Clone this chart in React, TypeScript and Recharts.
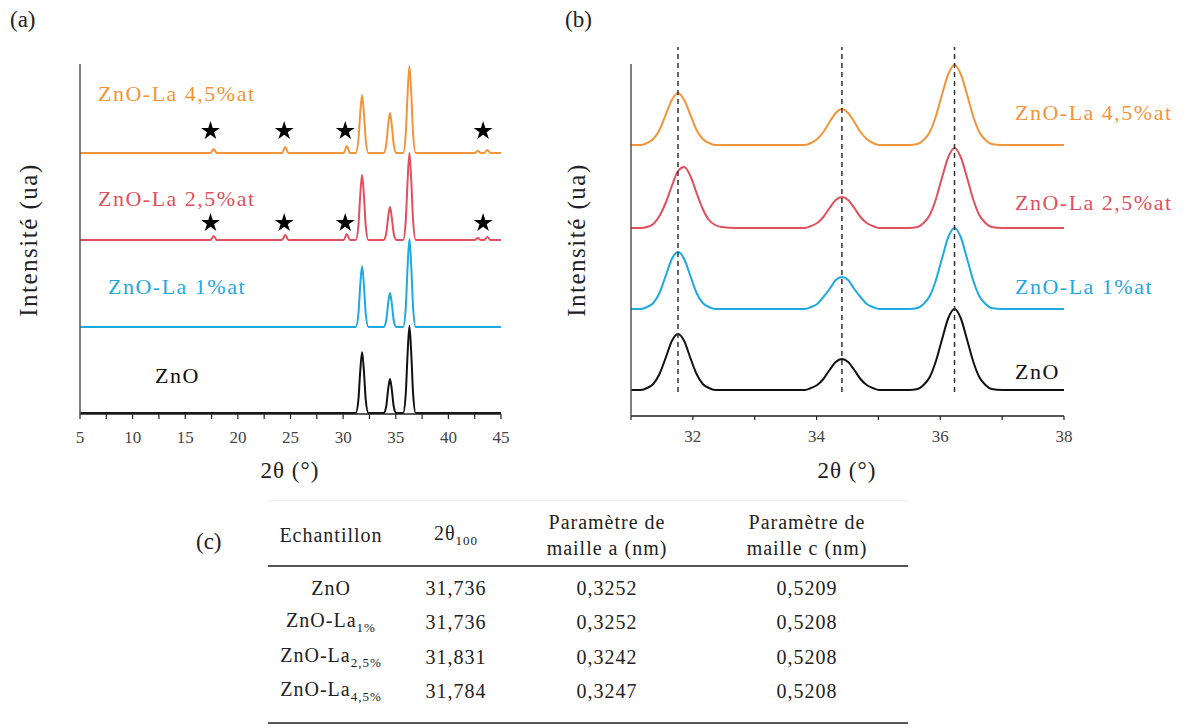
import React from "react";
import {
  ComposedChart,
  Line,
  Scatter,
  XAxis,
  YAxis,
  ZAxis,
  ReferenceLine,
} from "recharts";

const serif = "'Times New Roman', Tinos, 'Liberation Serif', 'DejaVu Serif', 'Noto Serif', Times, serif";

const seriesKeys = ["zno", "la1", "la25", "la45"];
const seriesLabels = ["ZnO", "ZnO-La 1%at", "ZnO-La 2,5%at", "ZnO-La 4,5%at"];
const seriesColors = ["#111111", "#1EA9E1", "#E0505E", "#F2953A"];

// (a) full scan 5-45°
const thetaA = [
  5, 17.4, 17.7, 18.0, 24.2, 24.5, 24.8, 30.05, 30.35, 30.65,
  31.2, 31.45, 31.62, 31.8, 31.98, 32.15, 32.4,
  33.85, 34.1, 34.27, 34.45, 34.63, 34.8, 35.05,
  35.7, 35.95, 36.12, 36.3, 36.48, 36.65, 36.9,
  42.5, 42.8, 43.1, 43.4, 43.7, 44.0, 45,
];
const znoA = [
  0, 0, 0, 0, 0, 0, 0, 0, 0, 0,
  0, 13, 41, 61, 41, 13, 0,
  0, 7, 23, 34, 23, 7, 0,
  0, 19, 58, 87, 58, 19, 0,
  0, 0, 0, 0, 0, 0, 0,
];
const la1A = [
  0, 0, 0, 0, 0, 0, 0, 0, 0, 0,
  0, 13, 41, 61, 41, 13, 0,
  0, 7, 23, 34, 23, 7, 0,
  0, 19, 59, 88, 59, 19, 0,
  0, 0, 0, 0, 0, 0, 0,
];
const la25A = [
  0, 0, 4, 0, 0, 5, 0, 0, 6, 0,
  0, 14, 44, 65, 44, 14, 0,
  0, 7, 22, 33, 22, 7, 0,
  0, 19, 58, 87, 58, 19, 0,
  0, 2, 0, 0, 3, 0, 0,
];
const la45A = [
  0, 0, 4, 0, 0, 6, 0, 0, 7, 0,
  0, 13, 39, 58, 39, 13, 0,
  0, 9, 27, 40, 27, 9, 0,
  0, 19, 58, 87, 58, 19, 0,
  0, 2, 0, 0, 3, 0, 0,
];
const offsetsA = [1, 87, 174, 261];
const ticksA = [5, 7.5, 10, 12.5, 15, 17.5, 20, 22.5, 25, 27.5, 30, 32.5, 35, 37.5, 40, 42.5, 45];

// La2O3 secondary phase marks
const starTheta = [17.4, 24.4, 30.2, 43.3];
const starLevels = [191, 283];

// (b) zoom 31-38°
const thetaB = [
  31.0,
  31.16, 31.26, 31.36, 31.46, 31.56, 31.66, 31.76, 31.86, 31.96, 32.06, 32.16, 32.26, 32.36, 32.46,
  32.7, 33.6,
  33.81, 33.91, 34.01, 34.11, 34.21, 34.31, 34.41, 34.51, 34.61, 34.71, 34.81, 34.91, 35.01,
  35.2, 35.5,
  35.63, 35.73, 35.83, 35.93, 36.03, 36.13, 36.23, 36.33, 36.43, 36.53, 36.63, 36.73, 36.83,
  37.0, 37.3, 38.0,
];
const znoB = [
  0,
  0, 2, 6, 16, 32, 49, 56, 49, 32, 16, 6, 2, 0, 0,
  0, 0,
  0, 2, 5, 11, 20, 28, 31, 28, 20, 11, 5, 2, 0,
  0, 0,
  1, 5, 13, 29, 51, 72, 81, 72, 51, 29, 13, 5, 1,
  0, 0, 0,
];
const la1B = [
  0,
  0, 2, 6, 16, 33, 50, 57, 50, 33, 16, 6, 2, 0, 0,
  0, 0,
  0, 2, 5, 12, 20, 29, 32, 29, 20, 12, 5, 2, 0,
  0, 0,
  1, 5, 13, 29, 51, 72, 81, 72, 51, 29, 13, 5, 1,
  0, 0, 0,
];
const la25B = [
  0,
  0, 1, 4, 12, 25, 42, 57, 61, 52, 35, 19, 8, 3, 1,
  0, 0,
  0, 2, 5, 11, 20, 28, 31, 28, 20, 11, 5, 2, 0,
  0, 0,
  1, 5, 13, 29, 51, 71, 80, 71, 51, 29, 13, 5, 1,
  0, 0, 0,
];
const la45B = [
  0,
  0, 2, 6, 15, 30, 45, 52, 45, 30, 15, 6, 2, 0, 0,
  0, 0,
  0, 2, 6, 13, 23, 32, 36, 32, 23, 13, 6, 2, 0,
  0, 0,
  1, 5, 13, 29, 51, 71, 80, 71, 51, 29, 13, 5, 1,
  0, 0, 0,
];
const offsetsB = [26, 107, 188, 271];
const ticksB = [31, 32, 33, 34, 35, 36, 37, 38];
const peakLinesB = [31.76, 34.41, 36.23];

// (c) table
const tableHead = ["Echantillon", "2θ", "Paramètre de", "Paramètre de"];
const tableHead2 = ["", "", "maille a (nm)", "maille c (nm)"];
const sampleBase = ["ZnO", "ZnO-La", "ZnO-La", "ZnO-La"];
const sampleSub = ["", "1%", "2,5%", "4,5%"];
const peak100 = ["31,736", "31,736", "31,831", "31,784"];
const latticeA = ["0,3252", "0,3252", "0,3242", "0,3247"];
const latticeC = ["0,5209", "0,5208", "0,5208", "0,5208"];

const buildRows = (theta: number[], values: number[][], offsets: number[]) =>
  theta.map((t, i) => {
    const row: Record<string, number> = { theta: t };
    seriesKeys.forEach((k, s) => {
      row[k] = values[s][i] + offsets[s];
    });
    return row;
  });

const rowsA = buildRows(thetaA, [znoA, la1A, la25A, la45A], offsetsA);
const rowsB = buildRows(thetaB, [znoB, la1B, la25B, la45B], offsetsB);
const stars = starLevels.flatMap((lv) => starTheta.map((t) => ({ theta: t, star: lv })));

const Txt = ({ x, y, children, color = "#111", size = 22, anchor = "left", style = {} }: any) => (
  <div
    style={{
      position: "absolute",
      left: x,
      top: y,
      transform: anchor === "center" ? "translate(-50%, -50%)" : "translate(0, -50%)",
      fontFamily: serif,
      fontSize: size,
      lineHeight: 1,
      color,
      whiteSpace: "nowrap",
      ...style,
    }}
  >
    {children}
  </div>
);

const YLabel = ({ x, y }: { x: number; y: number }) => (
  <div
    style={{
      position: "absolute",
      left: x,
      top: y,
      transform: "translate(-50%, -50%) rotate(-90deg)",
      fontFamily: serif,
      fontSize: 25,
      letterSpacing: 1.5,
      lineHeight: 1,
      color: "#222",
      whiteSpace: "nowrap",
    }}
  >
    Intensité (ua)
  </div>
);

const tickStyle = { fontFamily: serif, fontSize: 17, fill: "#444" };
const cellStyle = { letterSpacing: 1 };

const App = () => {
  const labelA = [
    { x: 155, y: 376 },
    { x: 108, y: 287 },
    { x: 98, y: 199 },
    { x: 98, y: 94 },
  ];
  const labelB = [372, 287, 203, 113];
  const colCenters = [331, 456, 607, 807];
  const rowCenters = [588, 622, 657, 691];

  return (
    <div style={{ position: "absolute", left: 0, top: 0, width: 1192, height: 728, background: "#fff", fontFamily: serif }}>
      {/* (a) */}
      <div style={{ position: "absolute", left: 0, top: 0 }}>
        <ComposedChart width={540} height={490} data={rowsA} margin={{ top: 64, right: 39, left: 60, bottom: 14 }}>
          <XAxis
            type="number"
            dataKey="theta"
            domain={[5, 45]}
            ticks={ticksA}
            interval={0}
            tickFormatter={(v: number) => (v % 5 === 0 ? String(v) : "")}
            tickSize={5}
            tickMargin={12}
            height={62}
            axisLine={{ stroke: "#222", strokeWidth: 1.5 }}
            tickLine={{ stroke: "#222", strokeWidth: 1.2 }}
            tick={tickStyle}
          />
          <YAxis
            type="number"
            domain={[0, 350]}
            width={20}
            tick={false}
            tickLine={false}
            axisLine={{ stroke: "#555", strokeWidth: 1.5 }}
          />
          <ZAxis range={[110, 110]} />
          {seriesKeys.map((k, i) => (
            <Line
              key={k}
              type="monotone"
              dataKey={k}
              stroke={seriesColors[i]}
              strokeWidth={2}
              dot={false}
              isAnimationActive={false}
            />
          ))}
          <Scatter data={stars} dataKey="star" shape="star" fill="#000" isAnimationActive={false} />
        </ComposedChart>
      </div>

      {/* (b) */}
      <div style={{ position: "absolute", left: 560, top: 0 }}>
        <ComposedChart width={632} height={490} data={rowsB} margin={{ top: 64, right: 128, left: 51, bottom: 14 }}>
          <XAxis
            type="number"
            dataKey="theta"
            domain={[31, 38]}
            ticks={ticksB}
            interval={0}
            tickFormatter={(v: number) => (v % 2 === 0 ? String(v) : "")}
            tickSize={4}
            tickMargin={10}
            height={60}
            axisLine={{ stroke: "#222", strokeWidth: 1.5 }}
            tickLine={{ stroke: "#222", strokeWidth: 1.2 }}
            tick={tickStyle}
          />
          <YAxis
            type="number"
            domain={[0, 352]}
            width={20}
            tick={false}
            tickLine={false}
            axisLine={{ stroke: "#555", strokeWidth: 1.5 }}
          />
          {seriesKeys.map((k, i) => (
            <Line
              key={k}
              type="monotone"
              dataKey={k}
              stroke={seriesColors[i]}
              strokeWidth={2}
              dot={false}
              isAnimationActive={false}
            />
          ))}
          {peakLinesB.map((p) => (
            <ReferenceLine
              key={p}
              segment={[
                { x: p, y: 24 },
                { x: p, y: 369 },
              ]}
              ifOverflow="visible"
              stroke="#333"
              strokeWidth={1.5}
              strokeDasharray="5 4"
            />
          ))}
        </ComposedChart>
      </div>

      {/* panel letters and axis titles */}
      <Txt x={10} y={19} size={23} color="#222">(a)</Txt>
      <Txt x={565} y={19} size={23} color="#222">(b)</Txt>
      <Txt x={290} y={470} size={23} anchor="center" color="#222" style={{ letterSpacing: 1 }}>2θ (°)</Txt>
      <Txt x={847} y={470} size={23} anchor="center" color="#222" style={{ letterSpacing: 1 }}>2θ (°)</Txt>
      <YLabel x={28} y={240} />
      <YLabel x={576} y={240} />

      {seriesLabels.map((s, i) => (
        <Txt key={"a" + s} x={labelA[i].x} y={labelA[i].y} color={seriesColors[i]} style={{ letterSpacing: 1.5 }}>
          {s}
        </Txt>
      ))}
      {seriesLabels.map((s, i) => (
        <Txt key={"b" + s} x={1015} y={labelB[i]} color={seriesColors[i]} style={{ letterSpacing: 1.5 }}>
          {s}
        </Txt>
      ))}

      {/* (c) table */}
      <Txt x={196} y={541} size={23} color="#222">(c)</Txt>
      <div style={{ position: "absolute", left: 268, top: 500, width: 640, height: 66, borderTop: "1px solid #eee" }} />
      <div style={{ position: "absolute", left: 268, top: 565, width: 640, height: 2, background: "#555" }} />
      <div style={{ position: "absolute", left: 268, top: 722, width: 640, height: 2, background: "#555" }} />
      <Txt x={colCenters[0]} y={535} size={20} anchor="center" color="#222" style={cellStyle}>{tableHead[0]}</Txt>
      <Txt x={colCenters[1]} y={535} size={20} anchor="center" color="#222" style={cellStyle}>
        {tableHead[1]}
        <sub style={{ fontSize: 13 }}>100</sub>
      </Txt>
      {[2, 3].map((c) => (
        <React.Fragment key={c}>
          <Txt x={colCenters[c]} y={522} size={20} anchor="center" color="#222" style={cellStyle}>{tableHead[c]}</Txt>
          <Txt x={colCenters[c]} y={548} size={20} anchor="center" color="#222" style={cellStyle}>{tableHead2[c]}</Txt>
        </React.Fragment>
      ))}
      {rowCenters.map((y, r) => (
        <React.Fragment key={r}>
          <Txt x={colCenters[0]} y={y} size={20} anchor="center" color="#222" style={cellStyle}>
            {sampleBase[r]}
            {sampleSub[r] && <sub style={{ fontSize: 13 }}>{sampleSub[r]}</sub>}
          </Txt>
          <Txt x={colCenters[1]} y={y} size={20} anchor="center" color="#222" style={cellStyle}>{peak100[r]}</Txt>
          <Txt x={colCenters[2]} y={y} size={20} anchor="center" color="#222" style={cellStyle}>{latticeA[r]}</Txt>
          <Txt x={colCenters[3]} y={y} size={20} anchor="center" color="#222" style={cellStyle}>{latticeC[r]}</Txt>
        </React.Fragment>
      ))}
    </div>
  );
};

export default App;
